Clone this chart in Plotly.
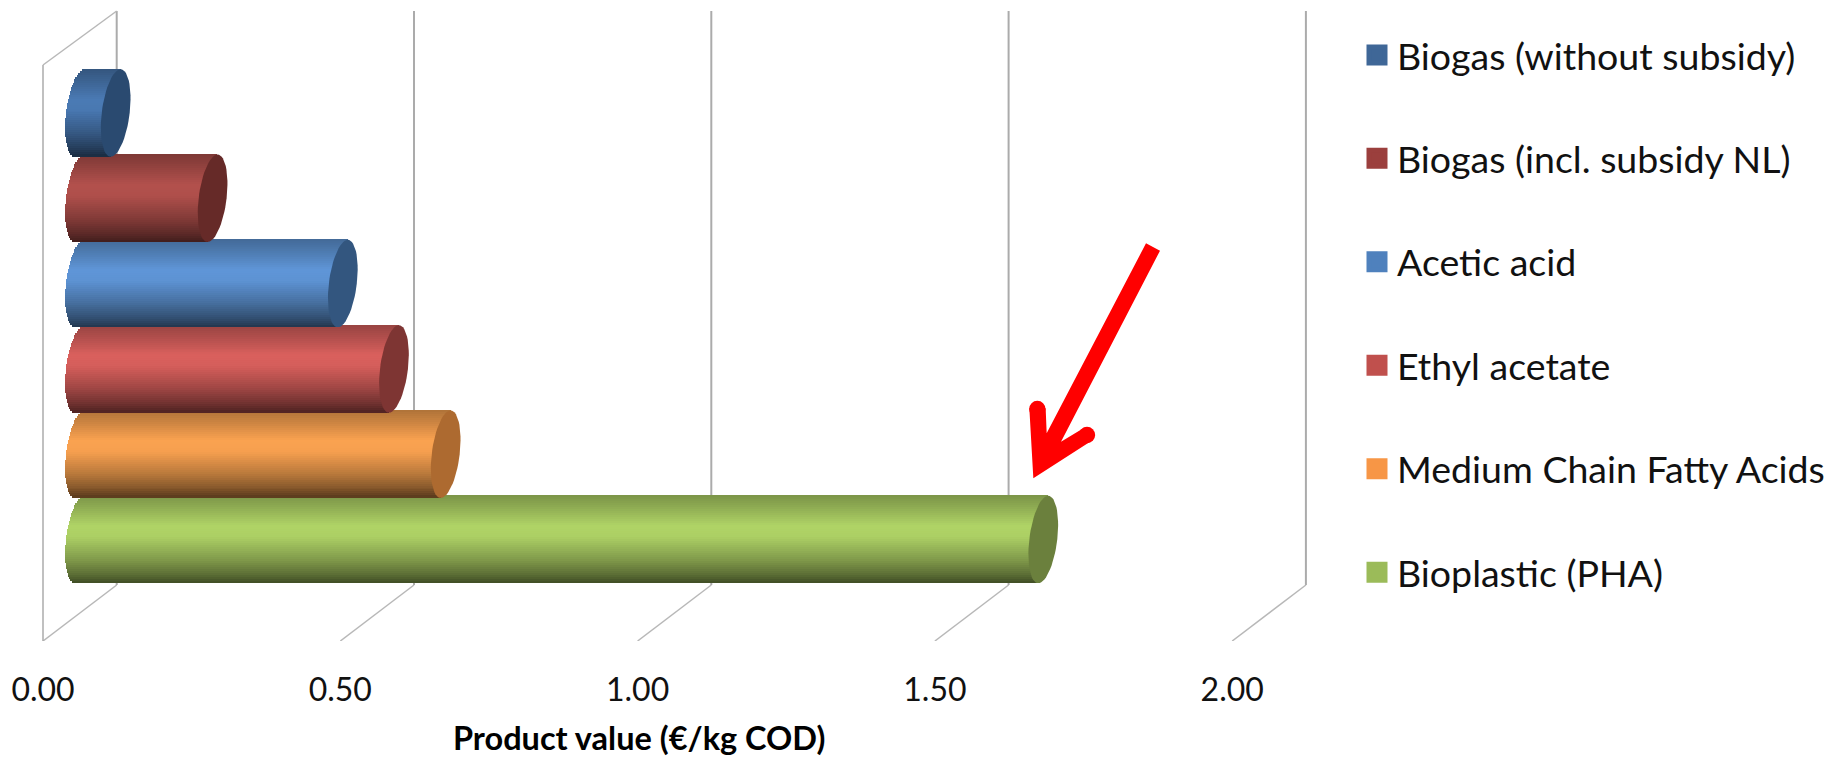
import math
import plotly.graph_objects as go

categories = ["Bioplastic (PHA)", "Medium Chain Fatty Acids", "Ethyl acetate",
              "Acetic acid", "Biogas (incl. subsidy NL)", "Biogas (without subsidy)"]
values = [1.62, 0.615, 0.528, 0.442, 0.223, 0.06]
tick_values = [0, 0.5, 1.0, 1.5, 2.0]
tick_labels = ["0.00", "0.50", "1.00", "1.50", "2.00"]

light_colors = ["#B0D466", "#FBA350", "#DA605D", "#5F96D8", "#B3504C", "#4A7AB5"]
cap_colors = ["#6B803D", "#AD6A30", "#7E3533", "#33567F", "#662A28", "#2A4A70"]
legend_colors = ["#9BBB59", "#F79646", "#C0504D", "#4F81BD", "#9B3F3D", "#3F6797"]

W, H = 1844, 759
PX_PER_UNIT = 594.6
X0_PX = 43.0
DOMAIN_PX = 1330.0
FLOOR_PX = 641.0
ROW_PX = 85.3
ROW0_PX = 539.5

DEPTH_X = 73.7 / PX_PER_UNIT
BAR_ZERO = 37.0 / PX_PER_UNIT
ROW_W = 87.5 / ROW_PX
CAP_A = 14.0 / PX_PER_UNIT
CAP_S = 5.0 / PX_PER_UNIT
N = 44


def row(py):
    return (ROW0_PX - py) / ROW_PX


def shade(hex_c, f):
    r, g, b = (int(hex_c[i:i + 2], 16) for i in (1, 3, 5))
    return f"rgba({min(255, int(r * f))},{min(255, int(g * f))},{min(255, int(b * f))},0.995)"


STOPS = [(1.0, 0.70), (0.75, 0.80), (0.3, 1.0), (0.05, 0.98), (-0.45, 0.74), (-0.8, 0.52), (-1.0, 0.36)]


def ramp(u):
    for (u1, f1), (u2, f2) in zip(STOPS, STOPS[1:]):
        if u2 <= u <= u1:
            return f2 + (f1 - f2) * (u - u2) / (u1 - u2)
    return 1.0


fig = go.Figure()
positions = list(range(len(categories)))

# cylinder bodies: thin slices stacked across each bar's width
for k in range(N):
    u1 = 1 - 2 * k / N
    u2 = 1 - 2 * (k + 1) / N
    u = (u1 + u2) / 2
    start = [BAR_ZERO + CAP_S * u - CAP_A * math.sqrt(max(0, 1 - u * u))] * len(values)
    length = [BAR_ZERO + v + CAP_S * u - s for v, s in zip(values, start)]
    fig.add_trace(go.Bar(
        y=positions, x=length, base=start, orientation="h",
        offset=u2 * ROW_W / 2, width=(u1 - u2) * ROW_W / 2 + 0.006,
        marker=dict(color=[shade(c, ramp(u)) for c in light_colors], line=dict(width=0)),
        showlegend=False, hoverinfo="skip",
    ))

# end caps
for i, (v, c) in enumerate(zip(values, cap_colors)):
    th = [2 * math.pi * t / 60 for t in range(61)]
    fig.add_trace(go.Scatter(
        x=[BAR_ZERO + v + CAP_A * math.cos(t) + CAP_S * math.sin(t) for t in th],
        y=[i + ROW_W / 2 * math.sin(t) for t in th],
        mode="lines", fill="toself", fillcolor=c, line=dict(width=0, color=c),
        showlegend=False, hoverinfo="skip",
    ))

# legend entries, top to bottom
for name, c in zip(categories[::-1], legend_colors[::-1]):
    fig.add_trace(go.Scatter(
        x=[None], y=[None], mode="markers", name=name, legendgroup=name,
        marker=dict(symbol="square", size=16, color=c, line=dict(width=5, color=c)),
        hoverinfo="skip",
    ))

# 3-D walls and floor, behind the bars
GREY = "#ABABAB"
shapes = []
yb, yt = row(585), row(11)
yfb, yft = row(FLOOR_PX), row(65)
for t in tick_values:
    shapes.append(dict(type="line", xref="x", yref="y", layer="below", x0=t + DEPTH_X, x1=t + DEPTH_X,
                       y0=yb, y1=yt, line=dict(color=GREY, width=2)))
    shapes.append(dict(type="line", xref="x", yref="y", layer="below", x0=t, x1=t + DEPTH_X,
                       y0=yfb, y1=yb, line=dict(color="#B8B8B8", width=1.5)))
shapes.append(dict(type="line", xref="x", yref="y", layer="below", x0=0, x1=0, y0=yfb, y1=yft,
                   line=dict(color=GREY, width=1.5)))
shapes.append(dict(type="line", xref="x", yref="y", layer="below", x0=0, x1=DEPTH_X, y0=yft, y1=yt,
                   line=dict(color="#B8B8B8", width=1.5)))


# red arrow, placed in page fractions
def pg(zx, zy):
    return (900 + zx / 3) / W, 1 - (220 + zy / 3) / H


poly = [(738, 70), (780, 92), (483, 665), (550, 625), (575, 662), (400, 775), (388, 565), (437, 565), (440, 640)]
path = "M " + " L ".join("{:.5f},{:.5f}".format(*pg(*p)) for p in poly) + " Z"
shapes.append(dict(type="path", xref="paper", yref="paper", path=path, fillcolor="#FF0000", line=dict(width=0)))
for zx, zy in [(412, 567), (561, 645)]:
    x0, y0 = pg(zx - 24.5, zy + 24.5)
    x1, y1 = pg(zx + 24.5, zy - 24.5)
    shapes.append(dict(type="circle", xref="paper", yref="paper", x0=x0, x1=x1, y0=y0, y1=y1,
                       fillcolor="#FF0000", line=dict(width=0)))

fig.update_layout(
    width=W, height=H, autosize=False,
    margin=dict(l=0, r=0, t=0, b=0, pad=0),
    paper_bgcolor="white", plot_bgcolor="rgba(0,0,0,0)",
    barmode="overlay", bargap=0,
    font=dict(family="Lato", color="#111111"),
    shapes=shapes,
    showlegend=True,
    legend=dict(x=1357 / W, xanchor="left", y=1 - 24 / H, yanchor="top",
                traceorder="grouped", tracegroupgap=51.7, font=dict(size=37.5, family="Lato", color="#111111"),
                bgcolor="rgba(0,0,0,0)", borderwidth=0),
    xaxis=dict(domain=[0, DOMAIN_PX / W],
               range=[-X0_PX / PX_PER_UNIT, (DOMAIN_PX - X0_PX) / PX_PER_UNIT],
               tickmode="array", tickvals=tick_values, ticktext=tick_labels,
               ticks="outside", ticklen=21, tickcolor="rgba(0,0,0,0)",
               tickfont=dict(size=32, family="Lato", color="#111111"),
               showgrid=False, zeroline=False, showline=False),
    yaxis=dict(domain=[(H - FLOOR_PX) / H, 1],
               range=[row(FLOOR_PX), row(0)],
               showticklabels=False, ticks="", showgrid=False, zeroline=False, showline=False),
    annotations=[dict(text="<b>Product value (€/kg COD)</b>", xref="x", yref="paper",
                      x=1.002, y=1 - 737 / H, xanchor="center", yanchor="middle", showarrow=False,
                      font=dict(size=32.5, family="Lato", color="#000000"))],
)

fig.write_html("out.html", config={"displayModeBar": False},
               post_script="document.body.style.margin='0';document.documentElement.style.overflow='hidden';")
